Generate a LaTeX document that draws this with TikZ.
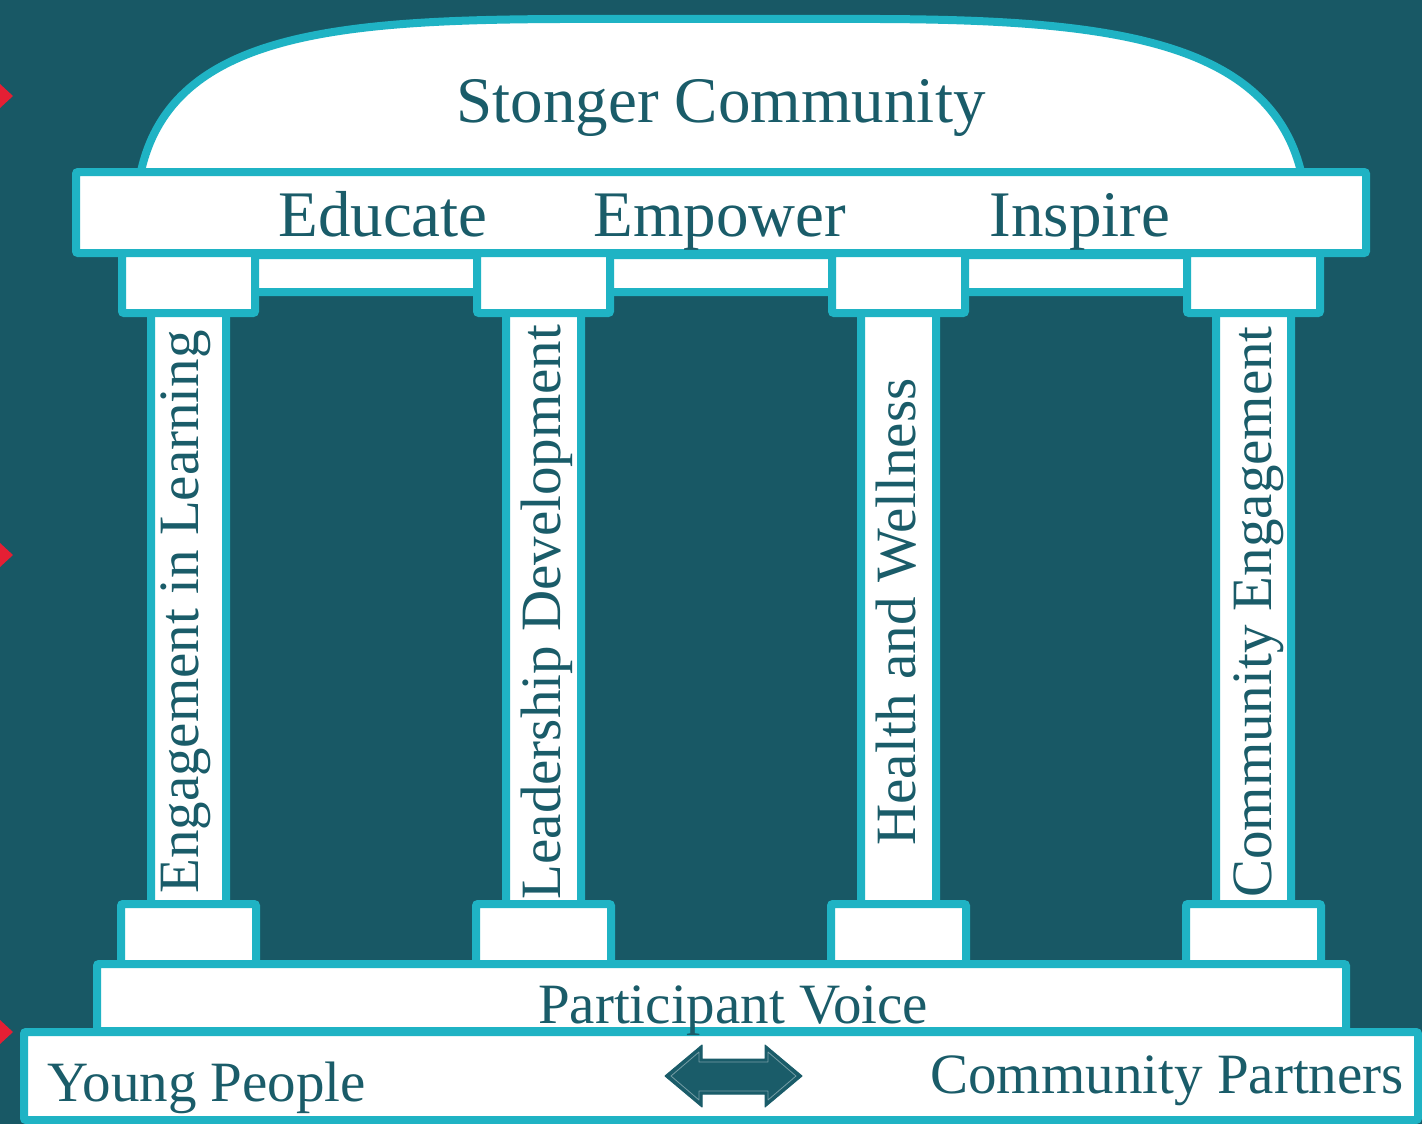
\documentclass[tikz,border=0pt]{standalone}
\usepackage{fontspec}
\setmainfont{Liberation Serif}
\definecolor{bgteal}{HTML}{185865}
\definecolor{rimteal}{HTML}{1FB3C4}
\definecolor{txteal}{HTML}{1A5C69}
\definecolor{markred}{HTML}{E51F34}
\tikzset{
  part/.style={fill=white, draw=rimteal, line width=8pt, rounded corners=2pt},
  big/.style={text=txteal, inner sep=0pt, font=\fontsize{65}{78}\selectfont},
  mid/.style={text=txteal, inner sep=0pt, font=\fontsize{57}{68}\selectfont},
  pillartext/.style={text=txteal, inner sep=0pt, rotate=90, anchor=base, font=\fontsize{57}{68}\selectfont},
  marker/.style={fill=markred, draw=none},
}
\begin{document}
\begin{tikzpicture}[x=1pt,y=-1pt]
\fill[bgteal] (0,0) rectangle (1422,1124);
\useasboundingbox (0,0) rectangle (1422,1124);
% dome
\draw[part, rounded corners=0pt] (140,176) .. controls (168,35) and (330,20) .. (560,19) -- (880,19) .. controls (1110,20) and (1272,40) .. (1302,176) -- cycle;
% top beam
\draw[part] (76,172) rectangle (1366,253);
% architrave bar
\draw[part] (200,255) rectangle (1250,292);
% shafts
\foreach \i in {0,1,2,3}{
  \draw[part] ({151+355*\i},300) rectangle ({226+355*\i},920);
}
% capitals
\foreach \i in {0,1,2,3}{
  \draw[part] ({122+355*\i},253) rectangle ({255+355*\i},313);
}
% bases
\foreach \i in {0,1,2,3}{
  \draw[part] ({121+355*\i},904) rectangle ({256+355*\i},964);
}
% platform
\draw[part] (97,964) rectangle (1346,1031);
% bottom box
\draw[part] (24,1032) rectangle (1418,1120);
% texts
\node[big, anchor=base] (dome) at (721,122) {Stonger Community};
\node[big, anchor=base] (educate) at (383,236) {Educate};
\node[big, anchor=base] (empower) at (720,236) {Empower};
\node[big, anchor=base] (inspire) at (1080,236) {Inspire};
\node[pillartext] (p1) at (198,612) {Engagement in Learning};
\node[pillartext] (p2) at (560,612) {Leadership Development};
\node[pillartext] (p3) at (915,612) {Health and Wellness};
\node[pillartext] (p4) at (1271,612) {Community Engagement};
\node[mid, anchor=base] (voice) at (733,1023) {Participant Voice};
\node[mid, anchor=base west] (young) at (47,1101) {Young People};
\node[mid, anchor=base east] (partners) at (1404,1093) {Community Partners};
% double arrow
\draw[fill=txteal, draw=txteal, line width=1pt, line join=round]
  (665,1076) -- (702,1045) -- (702,1059) -- (765,1059) -- (765,1045) -- (802,1076)
  -- (765,1107) -- (765,1094) -- (702,1094) -- (702,1107) -- cycle;
\draw[draw=white!40!txteal, line width=0.8pt, line join=round]
  (671,1076) -- (699,1052) -- (699,1062) -- (768,1062) -- (768,1052) -- (796,1076)
  -- (768,1100) -- (768,1091) -- (699,1091) -- (699,1100) -- cycle;
% red markers
\foreach \y in {96,555,1032}{
  \fill[marker] (0,\y-12) -- (13,\y) -- (0,\y+12) -- cycle;
}
\end{tikzpicture}
\end{document}
